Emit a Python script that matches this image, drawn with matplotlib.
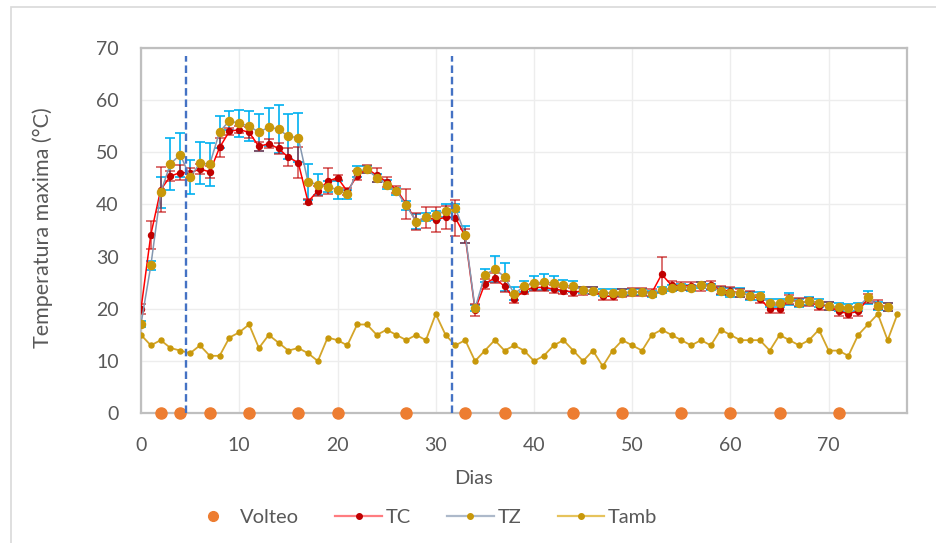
import matplotlib
matplotlib.use("Agg")
import matplotlib.pyplot as plt
from matplotlib.lines import Line2D
from matplotlib.patches import Rectangle

plt.rcParams['font.family'] = ['Lato', 'DejaVu Sans']

text_color = '#595959'

# daily values (days 0..76 for the piles, 0..77 for ambient)
tc = [20.0, 34.2, 42.8, 45.4, 46.1, 46.0, 46.8, 46.2, 50.9, 54.0,
      54.3, 53.8, 51.1, 51.6, 50.7, 49.0, 48.0, 40.5, 42.6, 44.4,
      45.1, 42.5, 45.5, 46.8, 45.6, 44.3, 42.8, 40.1, 36.7, 37.5,
      37.1, 37.5, 37.4, 33.9, 19.8, 24.8, 25.9, 24.3, 21.9, 23.5,
      24.1, 24.1, 23.8, 23.5, 23.2, 23.4, 23.5, 22.4, 22.4, 23.0,
      23.2, 23.2, 23.1, 26.6, 24.5, 24.4, 24.4, 24.3, 24.6, 23.6,
      23.4, 23.0, 22.6, 21.9, 20.0, 20.0, 21.8, 21.3, 21.3, 20.6,
      20.6, 19.5, 19.1, 19.5, 22.0, 20.8, 20.3]
tc_err = [0.9, 2.7, 4.3, 1.0, 1.5, 1.0, 1.0, 1.2, 1.9, 0.7,
          0.7, 1.0, 0.8, 0.9, 1.0, 1.7, 2.9, 0.5, 1.0, 2.5,
          0.5, 0.7, 0.8, 0.7, 1.3, 1.0, 0.7, 2.9, 1.6, 2.0,
          2.4, 2.2, 3.4, 1.3, 1.1, 1.0, 1.0, 1.0, 0.8, 0.7,
          0.7, 0.7, 0.7, 0.7, 0.7, 0.7, 0.7, 0.7, 0.7, 0.7,
          0.7, 0.7, 0.7, 3.4, 0.8, 0.8, 0.8, 0.8, 0.8, 0.8,
          0.8, 0.8, 0.8, 0.8, 0.8, 0.8, 0.8, 0.8, 0.8, 0.8,
          0.8, 0.8, 0.8, 0.8, 0.8, 0.8, 0.8]

tz = [17.1, 28.3, 42.3, 47.8, 49.5, 45.2, 47.9, 47.7, 53.9, 56.0,
      55.5, 55.0, 53.8, 54.8, 54.4, 53.0, 52.8, 44.3, 43.8, 43.4,
      42.8, 41.9, 46.3, 46.7, 45.1, 43.8, 42.5, 39.8, 36.7, 37.6,
      37.9, 38.8, 39.3, 34.2, 20.1, 26.4, 27.7, 26.1, 22.9, 24.3,
      24.9, 25.1, 24.9, 24.5, 24.3, 23.6, 23.5, 23.1, 23.1, 23.1,
      23.2, 23.2, 22.9, 23.6, 24.0, 24.2, 24.0, 24.6, 24.2, 23.4,
      23.1, 23.1, 22.5, 22.5, 21.1, 21.1, 21.9, 21.1, 21.5, 21.1,
      20.6, 20.3, 20.2, 20.4, 22.2, 20.5, 20.3]
tz_err = [0.5, 0.8, 3.0, 5.0, 4.2, 3.2, 4.0, 4.1, 3.1, 1.8,
          2.6, 2.9, 3.5, 3.6, 4.6, 4.3, 4.7, 3.5, 2.0, 1.0,
          1.7, 0.8, 1.0, 0.6, 0.8, 0.8, 0.7, 0.8, 1.5, 0.8,
          0.8, 1.2, 0.8, 1.6, 0.6, 1.2, 2.5, 2.6, 1.3, 1.0,
          1.3, 1.5, 1.3, 1.0, 1.0, 0.6, 0.6, 0.6, 0.6, 0.6,
          0.6, 0.6, 0.6, 0.5, 0.6, 0.6, 0.6, 0.6, 0.6, 0.8,
          0.8, 0.8, 0.8, 0.8, 0.8, 0.8, 1.2, 0.8, 0.8, 0.8,
          0.8, 0.8, 0.8, 0.8, 1.3, 0.8, 0.8]

tamb = [15, 13, 14, 12.5, 12, 11.5, 13, 11, 11, 14.5,
        15.5, 17, 12.5, 15, 13.5, 12, 12.5, 11.5, 10, 14.5,
        14, 13, 17, 17, 15, 16, 15, 14, 15, 14,
        19, 15, 13, 14, 10, 12, 14, 12, 13, 12,
        10, 11, 13, 14, 12, 10, 12, 9, 12, 14,
        13, 12, 15, 16, 15, 14, 13, 14, 13, 16,
        15, 14, 14, 14, 12, 15, 14, 13, 14, 16,
        12, 12, 11, 15, 17, 19, 14, 19]

volteo_days = [2, 4, 7, 11, 16, 20, 27, 33, 37, 44, 49, 55, 60, 65, 71]
phase_days = [4.6, 31.7]

days = list(range(len(tc)))
days_amb = list(range(len(tamb)))

fig = plt.figure(figsize=(9.37, 5.43), dpi=100)
ax = fig.add_axes([0.1505, 0.2389, 0.8178, 0.6733])

# outer chart border
fig.patches.append(Rectangle((11 / 937, -0.1), 1.2, 1 - 7 / 543 + 0.1,
                             transform=fig.transFigure, fill=False,
                             edgecolor='#D9D9D9', linewidth=1.2))

ax.set_xlim(0, 78)
ax.set_ylim(0, 70)
ax.set_xticks(range(0, 80, 10))
ax.set_yticks(range(0, 80, 10))
ax.grid(True, color='#EDEDED', linewidth=1.0)
ax.set_axisbelow(True)
for s in ax.spines.values():
    s.set_color('#BFBFBF')
    s.set_linewidth(1.6)
ax.tick_params(length=0, labelsize=14, labelcolor=text_color)
ax.tick_params(axis='y', pad=16)
ax.tick_params(axis='x', pad=17)

ax.errorbar(days, tz, yerr=tz_err, fmt='none', ecolor='#00B0F0',
            elinewidth=1.2, capsize=3.6, capthick=1.2, zorder=3)
ax.errorbar(days, tc, yerr=tc_err, fmt='none', ecolor='#C00000',
            elinewidth=1.2, capsize=3.6, capthick=1.2, alpha=0.65, zorder=3)

ax.plot(days, tc, color='#FF0000', lw=1.1, marker='o', ms=4.3,
        mfc='#C00000', mec='#C00000', zorder=4)
ax.plot(days, tz, color='#8497B0', lw=1.1, marker='o', ms=5.8,
        mfc='#C8980A', mec='#C8980A', zorder=5)
ax.plot(days_amb, tamb, color='#D4A52A', lw=1.3, marker='o', ms=3.6,
        mfc='#C8980A', mec='#C8980A', zorder=4)

ax.plot(volteo_days, [0] * len(volteo_days), ls='none', marker='o', ms=8,
        color='#ED7D31', clip_on=False, zorder=6)

for d in phase_days:
    ax.plot([d, d], [0, 68.5], color='#4472C4', lw=1.7, dashes=(3.2, 1.6),
            zorder=6)

fig.text(43 / 937, 1 - 228 / 543, 'Temperatura maxima (°C)',
         rotation=90, ha='center', va='center', fontsize=15.5, color=text_color)
fig.text(474 / 937, 1 - 478 / 543, 'Dias', ha='center', va='center',
         fontsize=14.5, color=text_color)

handles = [
    Line2D([], [], ls='none', marker='o', ms=7, color='#ED7D31'),
    Line2D([], [], color='#FF7C80', lw=1.6, marker='o', ms=4, mfc='#C00000', mec='#C00000'),
    Line2D([], [], color='#ADB9CA', lw=1.6, marker='o', ms=4, mfc='#C8980A', mec='#C8980A'),
    Line2D([], [], color='#E6C35C', lw=1.6, marker='o', ms=4, mfc='#C8980A', mec='#C8980A'),
]
leg = fig.legend(handles, ['Volteo', 'TC', 'TZ', 'Tamb'], loc='center',
                 bbox_to_anchor=(0.452, 1 - 517 / 543), ncol=4, frameon=False,
                 handlelength=2.3, columnspacing=1.8, handletextpad=0.2,
                 fontsize=14.5)
for t in leg.get_texts():
    t.set_color(text_color)

fig.savefig('out.png', dpi=100)
